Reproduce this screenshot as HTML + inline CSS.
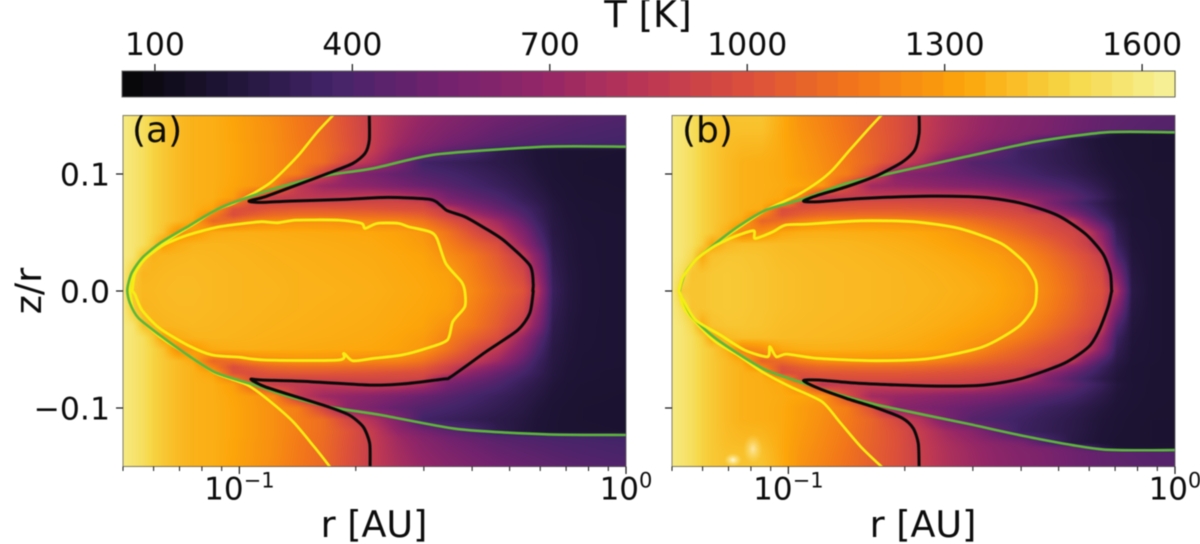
<!DOCTYPE html>
<html lang="en">
<head>
<meta charset="utf-8">
<title>Temperature maps T [K] in the r – z/r plane</title>
<style>
html,body{margin:0;padding:0;background:#fff;}
#figure{position:relative;width:1200px;height:544px;overflow:hidden;background:#fff;font-family:"DejaVu Sans","Liberation Sans",sans-serif;filter:blur(0.4px);}
canvas{position:absolute;display:block;}
#overlay{position:absolute;left:0;top:0;width:1200px;height:544px;}
#overlay text{font-family:"DejaVu Sans","Liberation Sans",sans-serif;fill:#0c0c0c;}
</style>
</head>
<body>
<div id="figure">
  <canvas id="heatA" width="503" height="352" style="left:123px;top:115px"></canvas>
  <canvas id="heatB" width="503" height="352" style="left:672px;top:115px"></canvas>
  <svg id="overlay" viewBox="0 0 1200 544" xmlns="http://www.w3.org/2000/svg">
    <defs>
      <clipPath id="clipA"><rect x="123" y="115.5" width="503" height="351"/></clipPath>
      <clipPath id="clipB"><rect x="672" y="115.5" width="503" height="351"/></clipPath>
      <radialGradient id="hotGlow"><stop offset="0" stop-color="#fffbe0" stop-opacity="0.95"/><stop offset="1" stop-color="#fcec80" stop-opacity="0"/></radialGradient>
    </defs>
    <ellipse cx="733" cy="460" rx="9" ry="7" fill="url(#hotGlow)"/>
    <ellipse cx="753" cy="449" rx="10" ry="15" fill="url(#hotGlow)" opacity="0.7"/>
    <g id="cbarLayer"></g>
    <g id="panelA"></g>
    <g id="panelB"></g>
    <text x="648" y="27" font-size="37" text-anchor="middle">T [K]</text>
    <text x="132" y="142" font-size="36">(a)</text>
    <text x="682" y="142" font-size="36">(b)</text>
    <text x="374" y="537" font-size="36.5" text-anchor="middle">r [AU]</text>
    <text x="923" y="537" font-size="36.5" text-anchor="middle">r [AU]</text>
    <text transform="translate(41,291) rotate(-90)" font-size="36.5" text-anchor="middle">z/r</text>
  </svg>
</div>
<script>
/* ---------- colour scale ---------- */
const infernoStops = ['#050505','#1e1436','#432468','#70226e','#932667','#bc3754','#dd513a','#f37819','#fca50a','#f6d746','#f6f29c'];
const cbarMin = 50;
const cbarMax = 1650;
const cbarLevels = 50;
const cbarTicks = [100, 400, 700, 1000, 1300, 1600];

/* ---------- axis ticks ---------- */
const yTicks = [0.1, 0.0, -0.1];
const yTickLabels = ['0.1', '0.0', '\u22120.1'];
const xMajorTicks = [0.1, 1];
const xMajorExponents = ['\u22121', '0'];
const xMinorTicks = [0.05, 0.06, 0.07, 0.08, 0.09, 0.2, 0.3, 0.4, 0.5, 0.6, 0.7, 0.8, 0.9];

/* ---------- temperature grid (K): log10 r columns, |z/r| rows ---------- */
const logRGrid = [-1.301,-1.275,-1.249,-1.223,-1.198,-1.159,-1.120,-1.068,-1.016,-0.965,-0.913,-0.848,-0.784,-0.719,-0.654,-0.590,-0.525,-0.460,-0.396,-0.331,-0.266,-0.227,-0.189,-0.150,-0.111,-0.059,0];
const zGridA = [0,0.015,0.03,0.04,0.05,0.06,0.065,0.07,0.075,0.08,0.09,0.10,0.11,0.12,0.125,0.13,0.14,0.15];
const tempsA = [
[1600,1420,1390,1390,1395,1400,1400,1390,1385,1380,1380,1370,1370,1365,1360,1350,1340,1320,1230,1120,1020,810,330,245,215,205,200],
[1600,1450,1380,1385,1390,1395,1395,1390,1385,1380,1375,1370,1365,1360,1355,1345,1335,1310,1200,1090,960,700,310,240,215,205,200],
[1600,1570,1420,1370,1380,1385,1390,1385,1380,1375,1370,1365,1360,1355,1350,1340,1325,1250,1170,1050,880,600,285,232,210,205,200],
[1600,1570,1535,1440,1300,1350,1375,1380,1375,1370,1365,1360,1355,1350,1345,1330,1300,1200,1090,990,700,470,270,228,210,205,200],
[1600,1570,1535,1480,1430,1240,1280,1350,1360,1360,1355,1350,1345,1340,1335,1320,1280,1150,1000,860,600,400,255,225,208,205,200],
[1600,1570,1535,1480,1445,1400,1340,1100,1130,1210,1240,1260,1260,1240,1220,1210,1150,1020,900,730,480,340,250,218,205,205,200],
[1600,1570,1535,1480,1445,1400,1370,1200,990,1060,1110,1130,1130,1120,1110,1100,1060,930,770,600,420,320,245,215,205,203,200],
[1600,1570,1535,1480,1445,1400,1370,1320,1010,990,1030,1040,1040,1030,1020,1000,985,880,640,500,380,310,240,212,203,200,198],
[1600,1570,1535,1480,1445,1400,1370,1350,1180,980,960,950,950,950,950,950,930,660,540,440,340,285,235,210,203,200,198],
[1600,1570,1535,1480,1445,1400,1370,1360,1310,1060,900,870,860,870,890,870,780,560,470,400,310,270,225,205,200,198,196],
[1600,1570,1535,1480,1445,1400,1370,1360,1330,1290,1240,880,730,680,640,570,500,440,380,330,280,245,212,203,196,195,193],
[1600,1570,1535,1480,1445,1400,1370,1360,1335,1295,1255,1190,950,650,560,480,420,380,340,300,260,225,205,198,194,193,192],
[1600,1570,1535,1480,1445,1400,1370,1360,1335,1295,1255,1190,1130,950,800,600,360,330,300,270,240,215,203,197,194,193,192],
[1600,1570,1535,1480,1445,1400,1370,1360,1335,1295,1255,1190,1130,1020,880,680,560,460,400,285,235,212,202,198,196,195,194],
[1600,1570,1535,1480,1445,1400,1370,1360,1335,1295,1255,1185,1125,1015,885,730,610,530,470,430,410,395,385,380,375,370,365],
[1600,1570,1535,1480,1445,1400,1370,1360,1330,1290,1250,1180,1120,1010,890,745,640,560,510,460,435,420,410,400,395,385,380],
[1600,1570,1535,1480,1445,1400,1370,1360,1330,1290,1250,1175,1115,1005,890,765,670,600,550,500,470,455,440,425,415,405,395],
[1600,1570,1535,1480,1445,1400,1370,1360,1325,1285,1240,1170,1110,1000,885,780,700,630,580,540,505,485,470,455,445,430,420]
];
const zGridB = [0,0.015,0.03,0.04,0.05,0.06,0.065,0.07,0.075,0.08,0.09,0.10,0.11,0.12,0.13,0.134,0.138,0.15];
const tempsB = [
[1600,1440,1430,1430,1440,1445,1440,1430,1415,1405,1400,1395,1390,1385,1380,1370,1360,1340,1300,1220,1120,1040,1000,800,260,205,195],
[1600,1530,1425,1430,1440,1445,1440,1430,1415,1405,1400,1395,1390,1385,1375,1365,1350,1330,1285,1200,1100,1030,970,620,245,205,195],
[1600,1570,1500,1340,1420,1435,1435,1425,1405,1400,1395,1390,1385,1375,1365,1350,1330,1300,1240,1150,1050,990,900,420,230,205,195],
[1600,1570,1535,1460,1320,1390,1410,1410,1400,1395,1390,1385,1375,1365,1350,1330,1300,1255,1180,1090,990,910,740,340,220,205,195],
[1600,1570,1535,1480,1445,1360,1200,1250,1340,1360,1365,1360,1355,1345,1335,1310,1255,1170,1090,1010,950,880,640,300,215,205,195],
[1600,1570,1535,1480,1445,1400,1340,1090,1120,1200,1250,1255,1255,1250,1230,1190,1130,1070,1020,960,880,600,410,260,212,203,195],
[1600,1570,1535,1480,1445,1400,1370,1220,1010,1070,1110,1120,1125,1120,1110,1080,1050,1010,970,930,630,470,340,240,205,200,195],
[1600,1570,1535,1480,1445,1400,1370,1350,990,1010,1030,1035,1040,1040,1030,1010,990,965,930,700,500,400,310,232,205,200,195],
[1600,1570,1535,1480,1445,1400,1370,1360,1290,960,980,985,990,985,975,960,945,920,880,590,430,350,280,222,205,200,195],
[1600,1570,1535,1480,1445,1400,1370,1360,1340,1200,850,885,900,905,905,905,900,800,670,580,470,390,320,235,208,198,195],
[1600,1570,1535,1480,1445,1400,1370,1360,1350,1330,1290,1000,740,710,680,640,600,560,490,430,370,320,270,220,205,198,195],
[1600,1570,1535,1480,1445,1400,1370,1360,1345,1300,1260,1190,1000,640,590,540,490,440,390,340,300,265,235,212,202,196,194],
[1600,1570,1535,1480,1445,1400,1370,1360,1345,1300,1250,1180,1090,960,800,560,430,390,350,310,275,245,220,205,198,194,194],
[1600,1570,1535,1480,1445,1405,1385,1380,1345,1290,1240,1170,1085,1000,880,740,640,470,340,305,270,240,215,203,196,194,194],
[1600,1570,1535,1480,1445,1410,1400,1400,1345,1280,1230,1160,1080,1005,890,780,700,630,570,400,260,232,210,198,196,194,194],
[1600,1570,1535,1480,1445,1415,1410,1410,1345,1275,1225,1155,1075,1005,895,790,715,650,600,560,500,420,280,205,198,196,194],
[1600,1570,1535,1480,1445,1420,1420,1420,1345,1270,1220,1150,1072,1002,897,795,722,655,610,575,525,505,480,460,450,435,425],
[1600,1570,1535,1480,1445,1425,1430,1430,1350,1260,1210,1140,1070,1000,900,800,730,665,620,580,530,510,485,470,460,445,435]
];

/* ---------- contours: log10 r and z/r pairs ---------- */
const aGreenLogR = [0,-0.208,-0.489,-0.653,-0.771,-0.861,-0.961,-1.052,-1.134,-1.206,-1.252,-1.279,-1.290,-1.283,-1.261,-1.206,-1.134,-1.061,-0.961,-0.870,-0.761,-0.634,-0.435,-0.208,0];
const aGreenZ = [0.1233,0.1233,0.1168,0.1049,0.0991,0.0921,0.082,0.0707,0.055,0.0408,0.028,0.0151,0.0009,-0.0105,-0.0231,-0.0376,-0.0547,-0.0698,-0.0803,-0.0903,-0.0994,-0.106,-0.118,-0.1225,-0.1231];
const aBlackLogR = [-0.664,-0.664,-0.675,-0.707,-0.771,-0.852,-0.934,-0.975,-0.943,-0.870,-0.725,-0.616,-0.507,-0.480,-0.462,-0.417,-0.371,-0.317,-0.249,-0.240,-0.241,-0.240,-0.249,-0.280,-0.362,-0.453,-0.471,-0.580,-0.662,-0.816,-0.943,-0.970,-0.934,-0.852,-0.771,-0.716,-0.680,-0.663,-0.662];
const aBlackZ = [0.1504,0.129,0.1176,0.109,0.1005,0.0905,0.0805,0.0768,0.0757,0.0768,0.0783,0.08,0.0783,0.0734,0.0686,0.0635,0.0549,0.0435,0.0221,0.0065,0,-0.0009,-0.0191,-0.0334,-0.0519,-0.0733,-0.0752,-0.0795,-0.0804,-0.0775,-0.0761,-0.0755,-0.0818,-0.0904,-0.0989,-0.106,-0.116,-0.1303,-0.1502];
const aYellowOuterLogR = [-0.757,-0.798,-0.843,-0.884,-0.920,-0.961,-1.016,-1.061,-1.115,-1.179,-1.224,-1.261,-1.281,-1.283,-1.270,-1.206,-1.134,-1.061,-0.979,-0.925,-0.861,-0.807,-0.766];
const aYellowOuterZ = [0.1504,0.1361,0.1176,0.1034,0.0925,0.084,0.0749,0.0692,0.0578,0.0449,0.035,0.0236,0.0093,0,-0.0191,-0.039,-0.0547,-0.0704,-0.0804,-0.0932,-0.1117,-0.133,-0.1502];
const aYellowInnerLogR = [-1.277,-1.270,-1.243,-1.197,-1.134,-1.061,-1.002,-0.943,-0.902,-0.852,-0.743,-0.684,-0.675,-0.643,-0.589,-0.562,-0.507,-0.489,-0.466,-0.426,-0.417,-0.417,-0.448,-0.462,-0.516,-0.580,-0.653,-0.707,-0.730,-0.743,-0.934,-0.997,-1.070,-1.134,-1.206,-1.252,-1.270,-1.277];
const aYellowInnerZ = [0,0.015,0.0278,0.0392,0.0478,0.0543,0.0572,0.0592,0.0583,0.0606,0.0606,0.0578,0.0535,0.0578,0.0578,0.0549,0.0506,0.0449,0.0236,0.008,0,-0.0134,-0.0262,-0.0419,-0.049,-0.0547,-0.0576,-0.0596,-0.0533,-0.059,-0.059,-0.0567,-0.0547,-0.0462,-0.0319,-0.0163,-0.003,0];

const bGreenLogR = [0,-0.178,-0.360,-0.541,-0.768,-0.850,-0.959,-1.058,-1.131,-1.194,-1.240,-1.267,-1.281,-1.272,-1.249,-1.194,-1.131,-1.058,-0.959,-0.850,-0.768,-0.541,-0.360,-0.187,0];
const bGreenZ = [0.1356,0.1356,0.1276,0.1148,0.0982,0.092,0.0791,0.0692,0.0549,0.0392,0.0264,0.015,0.0002,-0.0077,-0.022,-0.0391,-0.0533,-0.0676,-0.079,-0.0904,-0.0975,-0.1132,-0.126,-0.1354,-0.136];
const bBlackLogR = [-0.662,-0.662,-0.673,-0.704,-0.768,-0.850,-0.922,-0.961,-0.922,-0.813,-0.632,-0.496,-0.396,-0.305,-0.233,-0.187,-0.167,-0.164,-0.164,-0.173,-0.196,-0.223,-0.287,-0.396,-0.496,-0.632,-0.813,-0.922,-0.961,-0.922,-0.850,-0.768,-0.704,-0.677,-0.664,-0.662];
const bBlackZ = [0.1504,0.1347,0.1205,0.1105,0.0991,0.0891,0.082,0.0768,0.0763,0.0791,0.0811,0.08,0.0749,0.0649,0.0492,0.0321,0.015,0,-0.0001,-0.0134,-0.0334,-0.0476,-0.0619,-0.0747,-0.0804,-0.0812,-0.079,-0.0761,-0.0767,-0.0832,-0.0918,-0.1003,-0.1089,-0.1174,-0.1303,-0.1502];
const bYellowOuterLogR = [-0.759,-0.795,-0.841,-0.886,-0.922,-0.977,-1.058,-1.131,-1.194,-1.240,-1.272,-1.281,-1.267,-1.194,-1.131,-1.068,-0.995,-0.913,-0.868,-0.813,-0.759];
const bYellowOuterZ = [0.1504,0.1376,0.1205,0.1034,0.0934,0.082,0.0692,0.0535,0.0392,0.0264,0.0122,0,-0.0162,-0.0419,-0.0547,-0.069,-0.0818,-0.0946,-0.1117,-0.133,-0.1502];
const bYellowInnerLogR = [-1.283,-1.272,-1.240,-1.194,-1.140,-1.090,-1.086,-1.040,-1.008,-0.949,-0.813,-0.677,-0.559,-0.450,-0.387,-0.361,-0.358,-0.364,-0.405,-0.496,-0.632,-0.768,-0.922,-1.004,-1.031,-1.048,-1.054,-1.113,-1.176,-1.240,-1.272,-1.283];
const bYellowInnerZ = [0,0.0122,0.0264,0.0378,0.0464,0.0515,0.0449,0.0506,0.0563,0.0572,0.06,0.0592,0.0535,0.0407,0.0236,0.0093,0,-0.0134,-0.0305,-0.0476,-0.0576,-0.0596,-0.0576,-0.0539,-0.0562,-0.0476,-0.0562,-0.0505,-0.0376,-0.0248,-0.0077,0];

/* ---------- axis functions ---------- */
const NS = 'http://www.w3.org/2000/svg';
const logMin = -1.301;
const logMax = 0;
const panelWidth = 503;
const zeroY = 291;
const yPerUnit = 1170;
function xScale(left, logR) { return left + (logR - logMin) / (logMax - logMin) * panelWidth; }
function yScale(z) { return zeroY - z * yPerUnit; }
function cbarX(t) { return 122 + (t - cbarMin) / (cbarMax - cbarMin) * 1053; }
function hexRgb(h) { return [parseInt(h.substr(1,2),16), parseInt(h.substr(3,2),16), parseInt(h.substr(5,2),16)]; }
const infernoRgb = infernoStops.map(hexRgb);
function colour(t) {
  let f = (t - cbarMin) / (cbarMax - cbarMin);
  f = Math.max(0, Math.min(0.99999, f)) * (infernoRgb.length - 1);
  const i = Math.floor(f), u = f - i, a = infernoRgb[i], b = infernoRgb[i + 1];
  return [a[0] + (b[0] - a[0]) * u, a[1] + (b[1] - a[1]) * u, a[2] + (b[2] - a[2]) * u];
}
function shape(tag, attrs, parent) {
  const el = document.createElementNS(NS, tag);
  for (const k in attrs) el.setAttribute(k, attrs[k]);
  parent.appendChild(el);
  return el;
}

/* ---------- heatmap ---------- */
function bracket(grid, v) {
  let i = 0;
  while (i < grid.length - 2 && grid[i + 1] < v) i++;
  return [i, Math.max(0, Math.min(1, (v - grid[i]) / (grid[i + 1] - grid[i])))];
}
function paintHeat(id, zGrid, temps) {
  const c = document.getElementById(id), ctx = c.getContext('2d');
  const img = ctx.createImageData(c.width, c.height), d = img.data;
  const cols = [];
  for (let x = 0; x < c.width; x++) cols.push(bracket(logRGrid, logMin + (x + 0.5) / panelWidth * (logMax - logMin)));
  for (let y = 0; y < c.height; y++) {
    const z = Math.min(0.15, Math.abs(yScale(0) - (115 + y + 0.5)) / yPerUnit);
    const [j, v] = bracket(zGrid, z);
    for (let x = 0; x < c.width; x++) {
      const [i, u] = cols[x];
      const t = (temps[j][i] * (1 - u) + temps[j][i + 1] * u) * (1 - v) + (temps[j + 1][i] * (1 - u) + temps[j + 1][i + 1] * u) * v;
      const rgb = colour(t), p = (y * c.width + x) * 4;
      d[p] = rgb[0]; d[p + 1] = rgb[1]; d[p + 2] = rgb[2]; d[p + 3] = 255;
    }
  }
  ctx.putImageData(img, 0, 0);
}
paintHeat('heatA', zGridA, tempsA);
paintHeat('heatB', zGridB, tempsB);

/* ---------- colorbar ---------- */
const cbarLayer = document.getElementById('cbarLayer');
for (let k = 0; k < cbarLevels; k++) {
  const t0 = cbarMin + (cbarMax - cbarMin) * k / cbarLevels;
  const t1 = cbarMin + (cbarMax - cbarMin) * (k + 1) / cbarLevels;
  const rgb = colour((t0 + t1) / 2);
  const seg = shape('rect', {x: cbarX(t0), y: 71, width: cbarX(t1) - cbarX(t0) + 1, height: 26, fill: 'rgb(' + rgb.map(Math.round).join(',') + ')', 'shape-rendering': 'crispEdges'}, cbarLayer);
  
  
}
const cbarFrame = shape('rect', {x: 122, y: 71, width: 1053, height: 26, fill: 'none', stroke: '#666', 'stroke-width': 1}, cbarLayer);


cbarTicks.forEach(function (t) {
  const mark = shape('line', {x1: cbarX(t), x2: cbarX(t), y1: 64, y2: 71, stroke: '#111', 'stroke-width': 1.2}, cbarLayer);
  
  
  const label = shape('text', {x: cbarX(t), y: 55, 'font-size': 31.5, 'text-anchor': 'middle'}, cbarLayer);
  label.textContent = String(t);
  
  
});

/* ---------- contours ---------- */
function smoothPath(left, logRs, zs) {
  const p = logRs.map(function (r, i) { return [xScale(left, r), yScale(zs[i])]; });
  let s = 'M' + p[0][0].toFixed(1) + ' ' + p[0][1].toFixed(1);
  for (let i = 0; i < p.length - 1; i++) {
    const a = p[Math.max(0, i - 1)], b = p[i], c = p[i + 1], d = p[Math.min(p.length - 1, i + 2)];
    const k = 1 / 8;
    s += 'C' + (b[0] + (c[0] - a[0]) * k).toFixed(1) + ' ' + (b[1] + (c[1] - a[1]) * k).toFixed(1) + ' ' +
         (c[0] - (d[0] - b[0]) * k).toFixed(1) + ' ' + (c[1] - (d[1] - b[1]) * k).toFixed(1) + ' ' +
         c[0].toFixed(1) + ' ' + c[1].toFixed(1);
  }
  return s;
}
function addContour(group, clip, left, logRs, zs, stroke, width) {
  const path = shape('path', {d: smoothPath(left, logRs, zs), fill: 'none', stroke: stroke, 'stroke-width': width, 'stroke-linejoin': 'round', 'stroke-linecap': 'round', 'clip-path': 'url(#' + clip + ')'}, group);
  return path;
}
const panelA = document.getElementById('panelA');
const panelB = document.getElementById('panelB');
const aOuter = addContour(panelA, 'clipA', 123, aYellowOuterLogR, aYellowOuterZ, '#f5ee14', 2.6);


const aGreen = addContour(panelA, 'clipA', 123, aGreenLogR, aGreenZ, '#5cb53c', 2.6);


const aInner = addContour(panelA, 'clipA', 123, aYellowInnerLogR, aYellowInnerZ, '#f5ee14', 2.8);


const aBlack = addContour(panelA, 'clipA', 123, aBlackLogR, aBlackZ, '#0a0a0a', 3);


const bOuter = addContour(panelB, 'clipB', 672, bYellowOuterLogR, bYellowOuterZ, '#f5ee14', 2.6);


const bGreen = addContour(panelB, 'clipB', 672, bGreenLogR, bGreenZ, '#5cb53c', 2.6);


const bInner = addContour(panelB, 'clipB', 672, bYellowInnerLogR, bYellowInnerZ, '#f5ee14', 2.8);


const bBlack = addContour(panelB, 'clipB', 672, bBlackLogR, bBlackZ, '#0a0a0a', 3);



/* ---------- axes ---------- */
function drawAxes(group, left, showYLabels) {
  const frame = shape('rect', {x: left, y: 115.5, width: panelWidth, height: 351, fill: 'none', stroke: '#555', 'stroke-width': 1, 'stroke-opacity': 0.75}, group);
  
  
  yTicks.forEach(function (z, i) {
    const t = shape('line', {x1: left - 7, x2: left, y1: yScale(z), y2: yScale(z), stroke: '#111', 'stroke-width': 1.2}, group);
    
    
    if (showYLabels) {
      const l = shape('text', {x: left - 13, y: yScale(z) + 11.5, 'font-size': 31.5, 'text-anchor': 'end'}, group);
      l.textContent = yTickLabels[i];
      
      
    }
  });
  xMinorTicks.forEach(function (r) {
    const x = xScale(left, Math.log10(r));
    const t = shape('line', {x1: x, x2: x, y1: 466.5, y2: 471, stroke: '#111', 'stroke-width': 1}, group);
    
    
  });
  xMajorTicks.forEach(function (r, i) {
    const x = xScale(left, Math.log10(r));
    const t = shape('line', {x1: x, x2: x, y1: 466.5, y2: 474, stroke: '#111', 'stroke-width': 1.2}, group);
    
    
    const l = shape('text', {x: x, y: 499.5, 'font-size': 31, 'text-anchor': 'middle'}, group);
    
    
    const base = shape('tspan', {}, l);
    base.textContent = '10';
    const sup = shape('tspan', {dy: -12, 'font-size': 21}, l);
    sup.textContent = xMajorExponents[i];
  });
}
drawAxes(panelA, 123, true);
drawAxes(panelB, 672, false);
</script>
</body>
</html>
